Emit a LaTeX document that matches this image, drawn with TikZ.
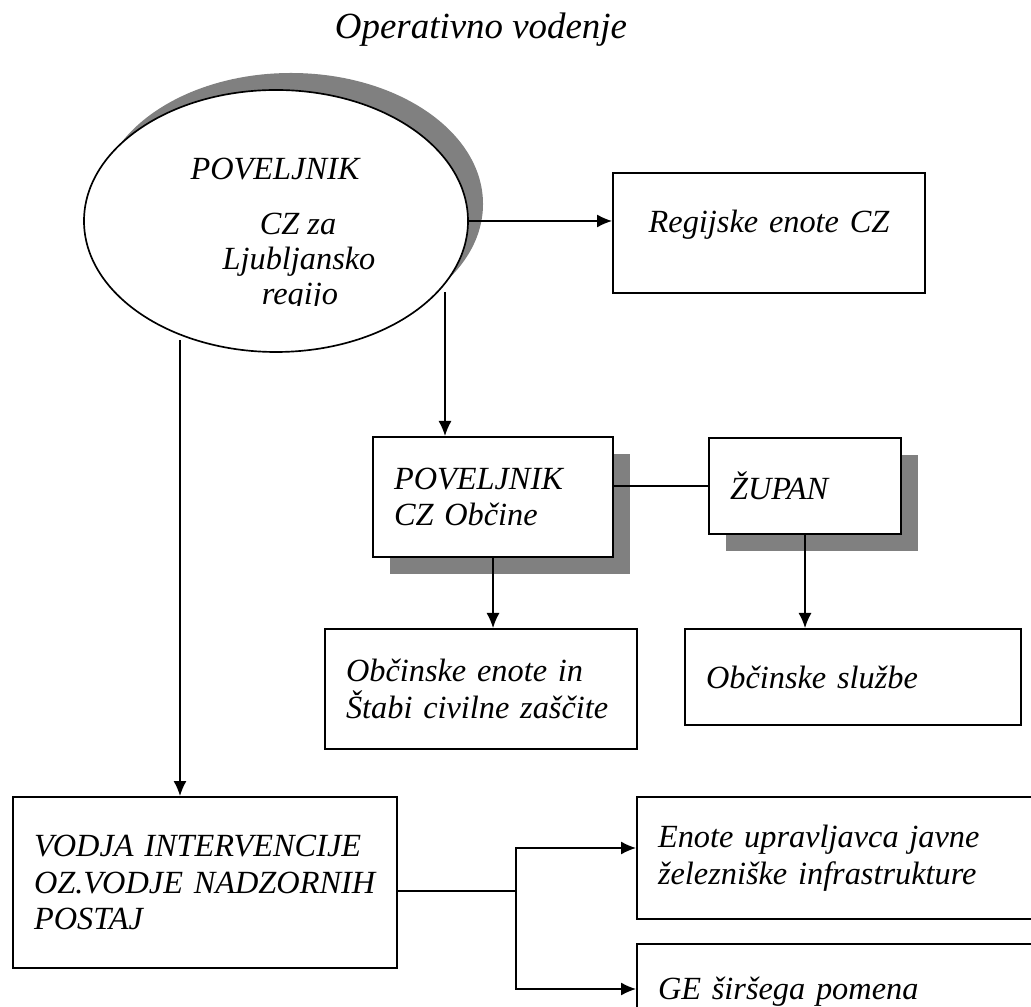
\documentclass[tikz,border=0pt]{standalone}
\usepackage{fontspec}
\setmainfont{Liberation Serif}
\usepackage{tikz}
\usetikzlibrary{calc}
\usetikzlibrary{arrows.meta}
\usetikzlibrary{shapes.geometric}
\usetikzlibrary{shadows}
\tikzset{>={Latex[length=3mm,width=2.6mm]}}
\tikzset{
	okvir/.style={draw, line width=1.15pt, fill=white, rectangle, anchor=north west, align=left,
		inner xsep=0.42cm, inner ysep=0pt, font=\itshape\fontsize{18.4}{20.8}\selectfont},
	senca/.style={drop shadow={shadow xshift=0.34cm, shadow yshift=-0.34cm, fill=gray, opacity=1}},
	napis/.style={anchor=base, font=\itshape\fontsize{18.4}{20.8}\selectfont},
	povezava/.style={line width=0.75pt},
}

\begin{document}
\begin{tikzpicture}
			\useasboundingbox (0,0) rectangle (20.62,20.12);
			\clip (0,0) rectangle (20.62,20.12);
			% naslov
			\node[anchor=base, font=\itshape\fontsize{21}{24}\selectfont] (naslov) at (9.62,19.34) {Operativno vodenje};
			% poveljnik regije
			\node[ellipse, draw, line width=0.95pt, fill=white, minimum width=7.68cm, minimum height=5.24cm, inner sep=0pt,
				drop shadow={shadow xshift=0.30cm, shadow yshift=0.34cm, fill=gray, opacity=1}] (povk) at (5.52,15.70) {};
			\node[napis] (povime) at (5.50,16.52) {POVELJNIK};
			\node[napis] (povcz) at (5.96,15.42) {CZ za};
			\node[napis] (povlj) at (5.98,14.72) {Ljubljansko};
			\begin{scope}
				\clip (3.0,14.0) rectangle (9.0,14.6);
				\node[napis] (povreg) at (6.00,14.02) {regijo};
			\end{scope}
			% okvirji
			\node[okvir, align=center, text width=5.40cm, minimum height=2.40cm, text height=0.46cm, text depth=0.50cm] (reg) at (12.24,16.68) {Regijske enote CZ};
			\node[okvir, senca, text width=3.96cm, minimum height=2.40cm] (pko) at (7.44,11.40) {POVELJNIK\\CZ Občine};
			\node[okvir, senca, text width=3.00cm, minimum height=1.92cm] (zup) at (14.16,11.38) {ŽUPAN};
			\node[okvir, text width=5.40cm, minimum height=2.40cm] (obe) at (6.48,7.56) {Občinske enote in\\Štabi civilne zaščite};
			\node[okvir, text width=5.88cm, minimum height=1.92cm] (obs) at (13.68,7.56) {Občinske službe};
			\node[okvir, text width=6.84cm, minimum height=3.42cm] (vod) at (0.24,4.20) {VODJA INTERVENCIJE\\OZ.VODJE NADZORNIH\\POSTAJ};
			\node[okvir, text width=7.56cm, minimum height=2.44cm] (eno) at (12.72,4.20) {Enote upravljavca javne\\železniške infrastrukture};
			\node[okvir, text width=7.56cm, minimum height=1.92cm] (ge) at (12.72,1.26) {GE širšega pomena};
			% povezave
			\coordinate (a1) at (8.90,14.28);
			\coordinate (a2) at (3.60,13.32);
			\coordinate (raz) at (10.32,2.30);
			\coordinate (e1) at (12.72,3.16);
			\coordinate (e2) at (12.72,0.34);
			\draw[povezava,->] (povk.east) -- (povk.east -| reg.west);
			\draw[povezava,->] (a1) -- (a1 |- pko.north);
			\draw[povezava,->] (a2) -- (a2 |- vod.north);
			\draw[povezava] (pko.east |- zup.west) -- (zup.west);
			\draw[povezava,->] (pko.south) -- (pko.south |- obe.north);
			\draw[povezava,->] (zup.south) -- (zup.south |- obs.north);
			\draw[povezava] (vod.east |- raz) -- (raz);
			\draw[povezava,->] (raz) |- (e1);
			\draw[povezava,->] (raz) |- (e2);
		\end{tikzpicture}
\end{document}
